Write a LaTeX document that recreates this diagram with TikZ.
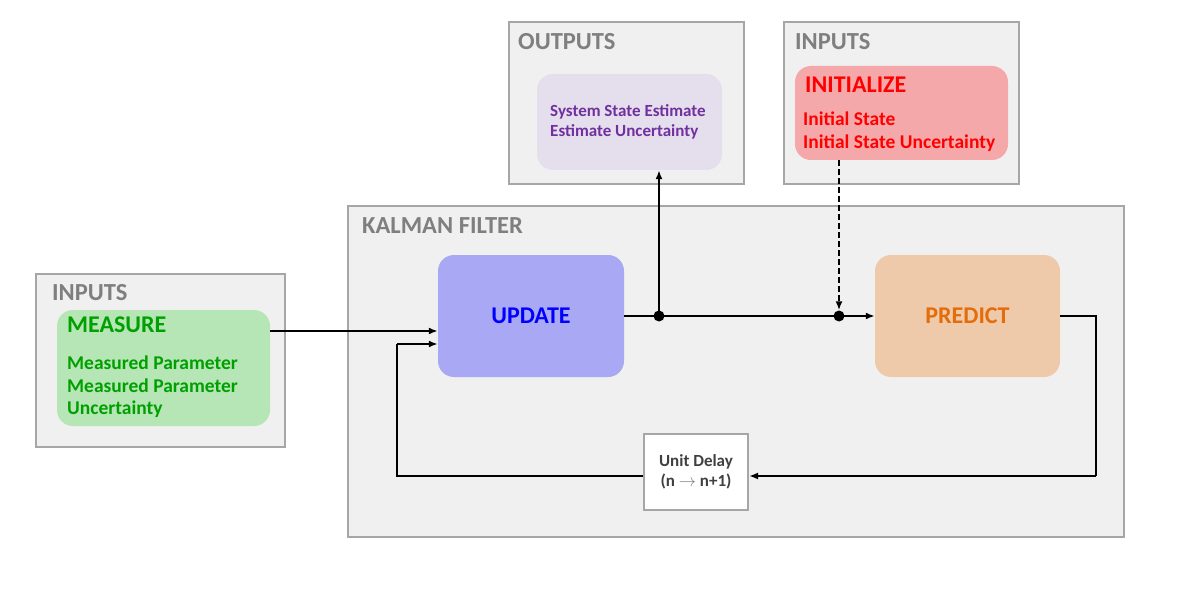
\documentclass[tikz,border=0pt]{standalone}
\usepackage{fontspec}
\setmainfont{Carlito}
\usetikzlibrary{arrows.meta}
\definecolor{panelfill}{HTML}{F0F0F0}
\definecolor{panelline}{HTML}{A6A6A6}
\definecolor{titlegray}{HTML}{7F7F7F}
\definecolor{outfill}{HTML}{E5DEEC}
\definecolor{outtext}{HTML}{7030A0}
\definecolor{initfill}{HTML}{F4A8A9}
\definecolor{inittext}{HTML}{FF0000}
\definecolor{measfill}{HTML}{B6E5B6}
\definecolor{meastext}{HTML}{00A000}
\definecolor{updfill}{HTML}{A8A8F4}
\definecolor{updtext}{HTML}{0000FF}
\definecolor{predfill}{HTML}{EECAAB}
\definecolor{predtext}{HTML}{E46C0A}
\definecolor{delaytext}{HTML}{404040}
\tikzset{
  panel/.style={draw=panelline, line width=2pt, fill=panelfill, inner sep=0pt},
  blk/.style={rounded corners=16pt, inner sep=0pt, font=\bfseries\fontsize{24}{29}\selectfont},
  ptitle/.style={anchor=west, inner sep=0pt, text=titlegray, font=\bfseries\fontsize{24.5}{29}\selectfont},
  sub/.style={anchor=west, inner sep=0pt, font=\bfseries\fontsize{19.5}{23}\selectfont},
  conn/.style={line width=2.3pt, -{Latex[length=9pt,width=7pt]}},
  line/.style={line width=2.3pt},
  dotn/.style={circle, fill=black, inner sep=0pt, minimum size=11pt}
}
\begin{document}
\begin{tikzpicture}[x=1pt,y=-1pt]
\useasboundingbox (0,0) rectangle (1200,591);
\fill[white] (0,0) rectangle (1200,591);
% panels
\node[panel, minimum width=235pt, minimum height=162pt] (outp) at (626.5,103) {};
\node[panel, minimum width=235pt, minimum height=162pt] (inpt) at (901.5,103) {};
\node[panel, minimum width=776pt, minimum height=331pt] (kal) at (736,371.5) {};
\node[panel, minimum width=249pt, minimum height=173pt] (inpl) at (160.5,360.5) {};
\node[ptitle] (toutp) at (518,42) {OUTPUTS};
\node[ptitle] (tinpt) at (795,42) {INPUTS};
\node[ptitle] (tkal) at (362,226) {KALMAN FILTER};
\node[ptitle] (tinpl) at (52,293) {INPUTS};
% blocks
\node[blk, fill=outfill, minimum width=185pt, minimum height=96pt] (outb) at (629.5,122) {};
\node[anchor=west, inner sep=0pt, text=outtext, align=left, font=\bfseries\fontsize{17}{20.5}\selectfont] (outt) at (550,122) {System State Estimate\\Estimate Uncertainty};
\node[blk, fill=initfill, minimum width=213pt, minimum height=94pt] (initb) at (901.5,113) {};
\node[anchor=west, inner sep=0pt, text=inittext, font=\bfseries\fontsize{24}{29}\selectfont] (initt) at (805,85) {INITIALIZE};
\node[sub, text=inittext] (init1) at (803,119) {Initial State};
\node[sub, text=inittext] (init2) at (803,143) {Initial State Uncertainty};
\node[blk, fill=measfill, minimum width=213pt, minimum height=116pt] (measb) at (163.5,368) {};
\node[anchor=west, inner sep=0pt, text=meastext, font=\bfseries\fontsize{24}{29}\selectfont] (meast) at (67,325) {MEASURE};
\node[sub, text=meastext] (meas1) at (67,363) {Measured Parameter};
\node[sub, text=meastext] (meas2) at (67,386) {Measured Parameter};
\node[sub, text=meastext] (meas3) at (67,409) {Uncertainty};
\node[blk, fill=updfill, text=updtext, minimum width=186pt, minimum height=122pt] (upd) at (531,316) {UPDATE};
\node[blk, fill=predfill, text=predtext, minimum width=185pt, minimum height=122pt] (pred) at (967.5,316) {PREDICT};
\node[draw=panelline, line width=2pt, fill=white, minimum width=104pt, minimum height=76pt, inner sep=0pt, align=center, text=delaytext, font=\bfseries\fontsize{17}{20.5}\selectfont] (delay) at (696,472) {Unit Delay\\(n {\color{gray}$\rightarrow$} n+1)};
% junctions
\node[dotn] (j1) at (659,316) {};
\node[dotn] (j2) at (839,316) {};
\coordinate (c1) at (397,476);
\coordinate (c2) at (397,344);
\coordinate (c3) at (1096,316);
\coordinate (c4) at (1096,476);
% connectors
\draw[conn] (measb.east |- 0,331) -- (upd.west |- 0,331);
\draw[line] (upd.east) -- (j1.center);
\draw[line] (j1.center) -- (j2.center);
\draw[conn] (j2.center) -- (pred.west);
\draw[conn] (j1.center) -- (outb.south -| j1);
\draw[conn, dash pattern=on 6pt off 3pt] (initb.south -| j2) -- (j2.north);
\draw[line] (pred.east) -- (c3) -- (c4);
\draw[conn] (c4) -- (delay.east |- c4);
\draw[line] (delay.west |- c1) -- (c1) -- (c2);
\draw[conn] (c2) -- (upd.west |- c2);
\end{tikzpicture}
\end{document}
